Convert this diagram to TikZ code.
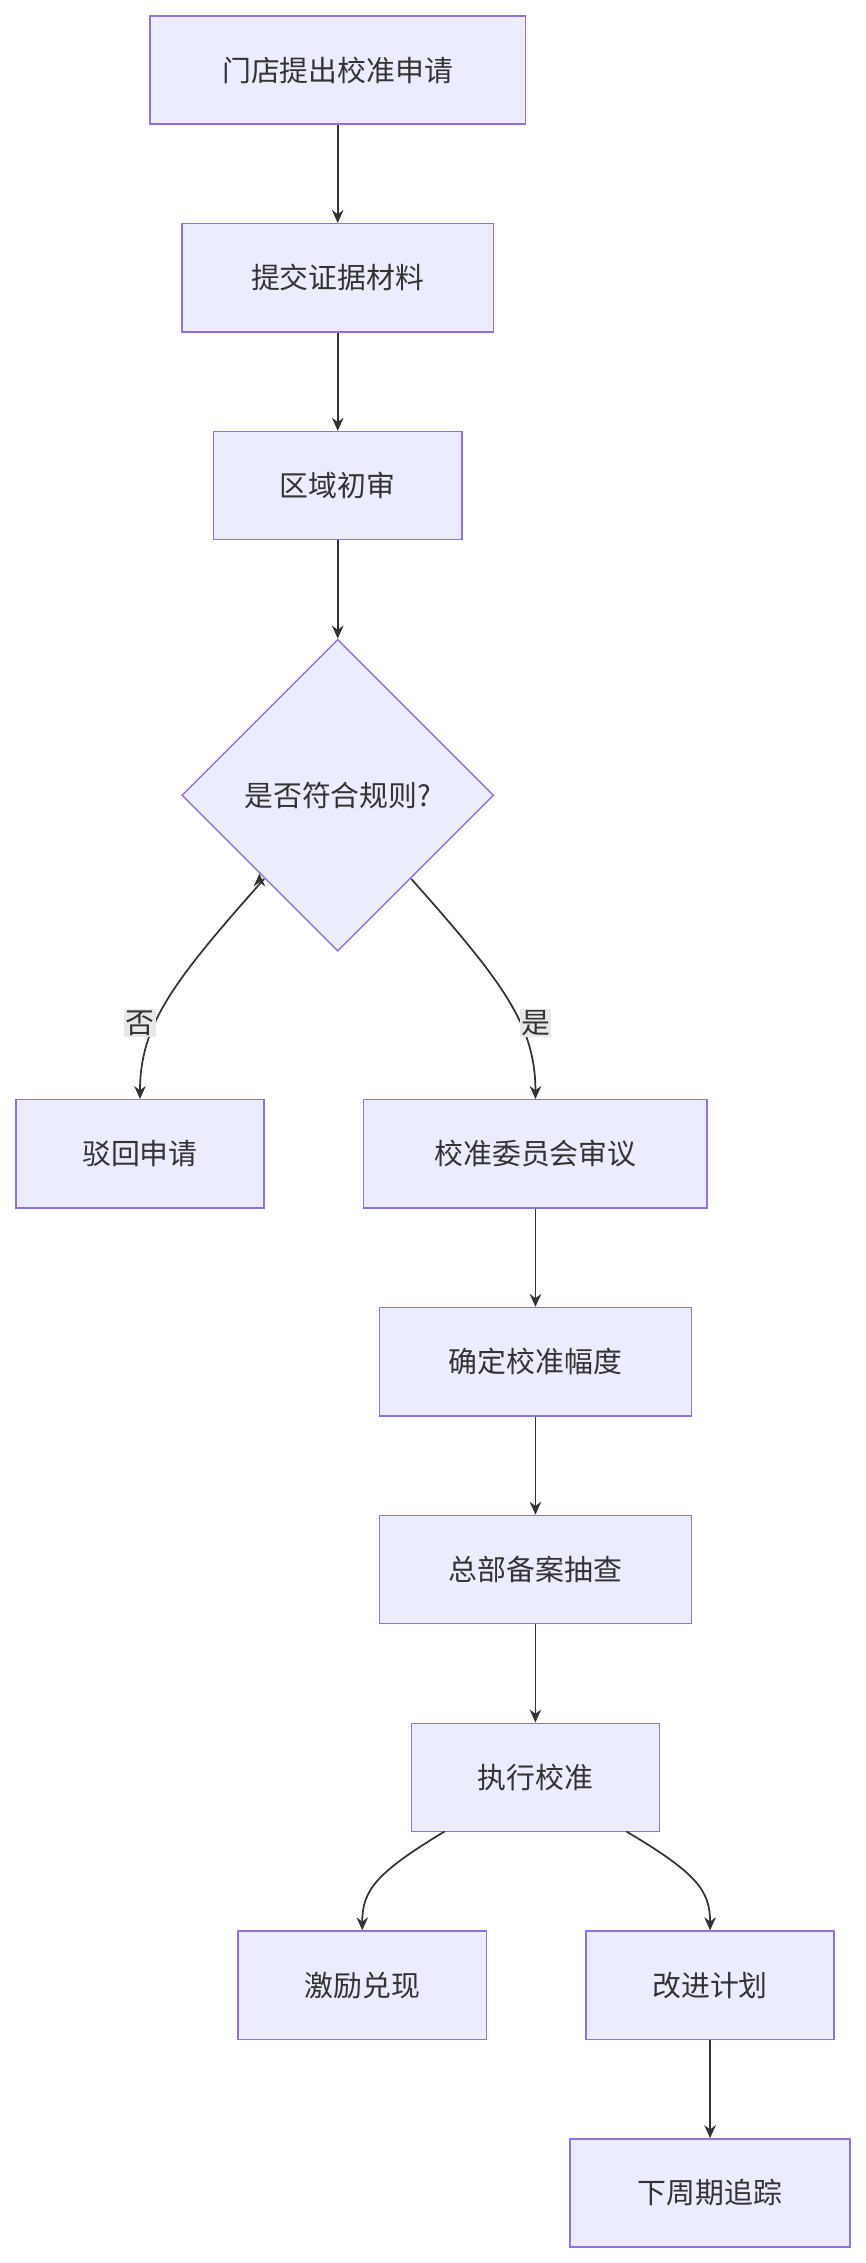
\documentclass[tikz,border=0pt]{standalone}
\usepackage{fontspec}
\setmainfont{Noto Sans CJK SC}
\usetikzlibrary{shapes.geometric,arrows.meta}
\definecolor{nfill}{HTML}{ECECFF}
\definecolor{nline}{HTML}{9370DB}
\definecolor{eline}{HTML}{333333}
\definecolor{lbg}{HTML}{E8E8E8}
\begin{document}
\begin{tikzpicture}[x=1pt,y=-1pt,
  box/.style={draw=nline,fill=nfill,line width=1pt,minimum height=75pt,font=\fontsize{20}{24}\selectfont,text=eline},
  dia/.style={draw=nline,fill=nfill,line width=1pt,diamond,minimum width=216pt,minimum height=216pt,inner sep=0pt,font=\fontsize{20}{24}\selectfont,text=eline},
  arr/.style={draw=eline,line width=1.2pt,-{Stealth[length=9pt,width=8pt]}},
  lab/.style={fill=lbg,inner sep=1pt,font=\fontsize{20}{24}\selectfont,text=eline}]
\useasboundingbox (0,0) rectangle (600,1568);
\node[box,minimum width=260pt] (a) at (234,48.5) {门店提出校准申请};
\node[box,minimum width=216pt] (b) at (234,192.5) {提交证据材料};
\node[box,minimum width=172pt] (c) at (234,336.5) {区域初审};
\node[dia] (d) at (234,551) {是否符合规则?};
\node[box,minimum width=172pt] (e) at (97,799.5) {驳回申请};
\node[box,minimum width=238pt] (f) at (371,799.5) {校准委员会审议};
\node[box,minimum width=216pt] (g) at (371,943.5) {确定校准幅度};
\node[box,minimum width=216pt] (h) at (371,1087.5) {总部备案抽查};
\node[box,minimum width=172pt] (i) at (371,1231.5) {执行校准};
\node[box,minimum width=172pt] (j) at (251,1375.5) {激励兑现};
\node[box,minimum width=172pt] (k) at (492,1375.5) {改进计划};
\node[box,minimum width=194pt] (l) at (492,1519.5) {下周期追踪};
\draw[arr] (a) -- (b);
\draw[arr] (b) -- (c);
\draw[arr] (c) -- (d);
\draw[arr] (d.south west) ++(0,0) coordinate (dl);
\draw[arr] (183,609) .. controls (120,680) and (97,710) .. (e.north);
\draw[arr] (285,609) .. controls (348,680) and (371,710) .. (f.north);
\node[lab] (n) at (97,709) {否};
\node[lab] (y) at (371,709) {是};
\draw[arr] (f) -- (g);
\draw[arr] (g) -- (h);
\draw[arr] (h) -- (i);
\draw[arr] (308,1269) .. controls (260,1298) and (251,1310) .. (j.north);
\draw[arr] (434,1269) .. controls (483,1298) and (492,1310) .. (k.north);
\draw[arr] (k) -- (l);
\end{tikzpicture}
\end{document}
